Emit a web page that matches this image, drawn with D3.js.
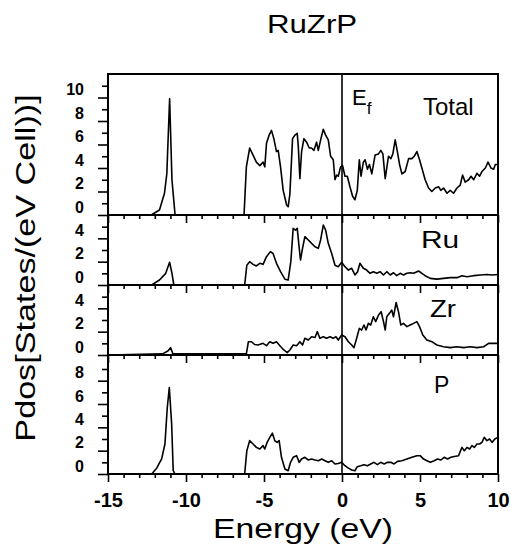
<!DOCTYPE html>
<html>
<head>
<meta charset="utf-8">
<title>RuZrP Pdos</title>
<script src="https://cdn.jsdelivr.net/npm/d3@7"></script>
<style>
    body { margin: 0; background: #fff; }
    svg text, svg tspan { font-family: "Liberation Sans", Arial, Helvetica, sans-serif; fill: #000; }
    .tick text { font-weight: bold; }
</style>
</head>
<body>
<svg id="chart" width="526" height="550"></svg>
<script>
// energies (eV) and densities of states, one pair per panel
var totalE = [-15, -12.23, -11.7, -11.38, -11.23, -11.05, -10.9, -10.7, -6.28, -6.13, -5.92, -5.7, -5.49, -5.27, -5.06, -4.95, -4.84, -4.67, -4.52, -4.37, -4.2, -4.09, -3.94, -3.77, -3.55, -3.45, -3.34, -3.17, -3.02, -2.87, -2.8, -2.7, -2.59, -2.44, -2.27, -2.1, -1.95, -1.8, -1.63, -1.52, -1.35, -1.2, -1.05, -0.88, -0.73, -0.56, -0.45, -0.34, -0.24, -0.09, 0.04, 0.19, 0.34, 0.51, 0.68, 0.83, 0.98, 1.11, 1.22, 1.37, 1.48, 1.63, 1.76, 1.91, 2.12, 2.34, 2.49, 2.62, 2.77, 2.98, 3.13, 3.26, 3.41, 3.51, 3.69, 3.84, 4.05, 4.27, 4.48, 4.63, 4.8, 4.97, 5.12, 5.33, 5.55, 5.76, 5.98, 6.19, 6.34, 6.51, 6.73, 6.94, 7.15, 7.37, 7.58, 7.73, 7.9, 8.12, 8.27, 8.44, 8.65, 8.82, 8.97, 9.19, 9.36, 9.55, 9.72, 9.83, 10];
var totalDos = [0, 0, 0.43, 1.85, 3.5, 9.9, 3.0, 0, 0, 4.1, 5.7, 5.1, 4.5, 4.2, 4.5, 4.1, 6.1, 6.8, 7.2, 6.5, 5.4, 5.5, 4.1, 2.1, 0.85, 0.7, 1.8, 6.5, 6.8, 6.95, 5.8, 3.1, 5.4, 6.5, 6.2, 5.7, 5.7, 5.5, 6.2, 5.5, 6.5, 7.3, 6.8, 6.4, 5.0, 4.7, 3.0, 3.4, 3.3, 4.1, 4.2, 3.3, 3.3, 2.4, 1.6, 1.3, 2.1, 4.7, 3.3, 4.5, 4.7, 3.9, 4.3, 3.5, 5.1, 5.2, 5.5, 5.2, 3.1, 5.0, 4.8, 5.2, 6.4, 5.7, 4.3, 3.5, 3.7, 4.8, 4.8, 5.0, 5.4, 4.7, 4.0, 3.0, 2.3, 2.0, 2.3, 2.4, 2.1, 2.3, 1.85, 2.1, 1.85, 2.3, 2.55, 3.4, 2.8, 3.0, 3.3, 3.0, 3.55, 3.3, 3.7, 4.0, 4.5, 4.0, 3.9, 4.3, 4.3];

var ruE = [-15, -12.2, -11.7, -11.3, -11.05, -10.9, -10.78, -6.24, -6.1, -5.92, -5.7, -5.49, -5.27, -5.06, -4.84, -4.59, -4.42, -4.2, -3.94, -3.66, -3.45, -3.28, -3.13, -2.98, -2.87, -2.74, -2.66, -2.53, -2.38, -2.16, -1.95, -1.73, -1.52, -1.37, -1.2, -1.05, -0.88, -0.66, -0.45, -0.24, -0.02, 0.19, 0.41, 0.62, 0.83, 1.0, 1.15, 1.37, 1.58, 1.8, 2.01, 2.23, 2.44, 2.66, 2.87, 3.09, 3.3, 3.51, 3.73, 3.94, 4.16, 4.37, 4.59, 4.91, 5.12, 5.33, 5.66, 6.08, 6.51, 6.94, 7.37, 7.69, 8.01, 8.44, 8.87, 9.29, 9.62, 10];
var ruDos = [0, 0, 0.43, 1.0, 1.95, 1.0, 0, 0, 1.7, 2.0, 1.77, 1.63, 1.86, 1.77, 2.43, 2.86, 2.7, 1.86, 1.14, 0.5, 0.43, 2.0, 4.86, 4.7, 4.86, 3.14, 2.14, 3.14, 4.14, 3.86, 3.57, 3.28, 3.14, 3.86, 5.14, 4.7, 3.57, 2.7, 1.7, 1.57, 1.95, 1.57, 1.28, 1.43, 0.86, 1.14, 1.86, 1.43, 1.28, 1.0, 1.14, 1.0, 1.14, 0.86, 1.14, 0.86, 1.05, 0.8, 1.0, 0.86, 1.0, 1.05, 1.0, 1.2, 1.0, 0.8, 0.57, 0.5, 0.57, 0.63, 0.63, 0.8, 0.71, 0.8, 0.86, 0.9, 0.86, 0.9];

var zrE = [-15, -11.5, -11.16, -10.99, -10.84, -6.13, -6.0, -5.81, -5.6, -5.38, -5.06, -4.84, -4.63, -4.42, -4.2, -3.98, -3.73, -3.51, -3.34, -3.13, -2.91, -2.7, -2.53, -2.38, -2.16, -1.95, -1.73, -1.58, -1.42, -1.2, -0.99, -0.77, -0.56, -0.39, -0.24, -0.02, 0.19, 0.41, 0.62, 0.77, 0.94, 1.11, 1.26, 1.41, 1.54, 1.69, 1.84, 2.01, 2.16, 2.34, 2.51, 2.66, 2.77, 2.87, 3.04, 3.19, 3.3, 3.47, 3.62, 3.77, 3.94, 4.16, 4.37, 4.59, 4.8, 4.97, 5.18, 5.44, 5.76, 6.08, 6.51, 6.94, 7.37, 7.8, 8.22, 8.65, 9.08, 9.4, 9.72, 10];
var zrDos = [0, 0.1, 0.34, 0.63, 0.1, 0.1, 1.14, 1.14, 0.9, 0.86, 1.0, 0.8, 1.14, 1.0, 1.14, 0.8, 0.43, 0.2, 0.43, 0.86, 0.8, 1.14, 0.86, 1.43, 1.28, 1.57, 1.5, 2.0, 1.43, 1.57, 1.43, 1.57, 1.43, 1.57, 1.28, 1.71, 1.57, 1.14, 0.86, 0.63, 1.43, 2.28, 2.14, 2.57, 2.14, 2.71, 2.57, 3.28, 2.86, 3.43, 3.71, 2.86, 2.14, 3.28, 3.57, 3.85, 3.28, 4.5, 3.71, 2.57, 2.71, 2.43, 2.57, 2.71, 2.86, 2.43, 1.71, 1.28, 1.14, 0.86, 0.71, 0.63, 0.71, 0.63, 0.71, 0.63, 0.71, 1.0, 1.0, 1.0];

var pE = [-15, -12.2, -11.88, -11.56, -11.35, -11.2, -11.07, -10.92, -10.82, -10.71, -6.24, -6.1, -5.92, -5.7, -5.49, -5.27, -5.06, -4.95, -4.8, -4.63, -4.46, -4.31, -4.16, -4.03, -3.88, -3.66, -3.45, -3.3, -3.13, -2.91, -2.74, -2.59, -2.38, -2.16, -1.95, -1.73, -1.52, -1.3, -1.09, -0.88, -0.66, -0.45, -0.24, -0.02, 0.19, 0.41, 0.62, 0.83, 0.98, 1.2, 1.41, 1.63, 1.84, 2.05, 2.27, 2.48, 2.7, 2.91, 3.13, 3.34, 3.56, 3.84, 4.16, 4.48, 4.8, 5.01, 5.23, 5.44, 5.66, 5.91, 6.12, 6.34, 6.55, 6.77, 6.98, 7.2, 7.47, 7.69, 7.84, 8.01, 8.18, 8.33, 8.48, 8.65, 8.82, 8.97, 9.12, 9.29, 9.46, 9.62, 9.8, 10];
var pDos = [0, 0, 0.5, 1.3, 2.57, 5.7, 7.4, 4.3, 0.3, 0, 0, 2.0, 2.86, 2.57, 2.28, 2.14, 2.43, 2.14, 2.71, 3.14, 3.5, 2.86, 2.71, 2.86, 1.43, 0.43, 0.28, 1.0, 1.43, 1.57, 1.0, 1.28, 1.43, 1.2, 1.28, 1.2, 1.14, 1.28, 1.14, 1.0, 1.14, 0.86, 0.9, 1.0, 0.71, 0.5, 0.34, 0.28, 0.63, 0.71, 0.8, 0.71, 0.86, 1.0, 0.8, 1.0, 0.86, 1.0, 1.0, 0.86, 1.08, 1.14, 1.28, 1.43, 1.57, 1.57, 1.28, 1.14, 1.0, 1.14, 1.28, 1.2, 1.43, 1.28, 1.43, 1.5, 1.57, 2.28, 2.0, 2.28, 2.14, 2.43, 2.28, 2.57, 2.57, 2.71, 3.14, 2.86, 3.0, 2.71, 3.0, 3.14];

var panelNames = ["Total", "Ru", "Zr", "P"];
var panelMax = [12, 6, 6, 10.2];
var xTicks = [-15, -10, -5, 0, 5, 10];

var left = 108, right = 498;
var panelTop = [74, 215, 285, 355];
var panelBottom = [215, 285, 355, 474];
var energies = [totalE, ruE, zrE, pE];
var dos = [totalDos, ruDos, zrDos, pDos];

var svg = d3.select("#chart");
var x = d3.scaleLinear().domain([-15, 10]).range([left, right]);

// stretched text helper (the scanned lettering is wider than Arial)
function label(txt, px, py, size, sx, anchor, rot) {
    var g = svg.append("g").attr("transform", "translate(" + px + "," + py + ")" + (rot ? " rotate(" + rot + ")" : ""));
    return g.append("text")
        .attr("transform", "scale(" + sx + ",1)")
        .attr("text-anchor", anchor)
        .attr("font-size", size + "px")
        .attr("fill", "#000")
        .text(txt);
}

for (var i = 0; i < 4; i++) {
    var y = d3.scaleLinear().domain([0, panelMax[i]]).range([panelBottom[i], panelTop[i]]);
    var g = svg.append("g");

    // y axis: tick every unit, label the even ones
    var yAxis = d3.axisLeft(y)
        .tickValues(d3.range(0, Math.floor(panelMax[i] - 0.3) + 1))
        .tickSize(6).tickPadding(18)
        .tickFormat(function(d) { return d % 2 == 0 ? d : ""; });
    var ya = g.append("g").attr("transform", "translate(" + left + ",0)").call(yAxis);
    ya.select(".domain").remove();
    ya.selectAll(".tick line").attr("stroke-width", 1.6)
        .attr("x2", function(d) { return d % 2 == 0 ? -10 : -6; });
    ya.selectAll(".tick text").attr("font-size", "16px").attr("dy", "-0.18em")
        .attr("font-family", "Liberation Sans, Arial, sans-serif");

    // x ticks along the bottom of every panel
    var xAxis = d3.axisBottom(x)
        .tickValues(d3.range(-15, 11))
        .tickSize(4).tickPadding(0)
        .tickFormat(function(d) { return (i == 3 && xTicks.indexOf(d) >= 0) ? d : ""; });
    var xa = g.append("g").attr("transform", "translate(0," + panelBottom[i] + ")").call(xAxis);
    xa.select(".domain").remove();
    xa.selectAll(".tick line").attr("stroke-width", 1.6)
        .attr("y2", function(d) { return d % 5 == 0 ? 8 : 4; });
    xa.selectAll(".tick text").attr("font-size", "20px").attr("y", 19)
        .attr("font-family", "Liberation Sans, Arial, sans-serif");

    var line = d3.line()
        .x(function(d) { return x(d[0]); })
        .y(function(d) { return y(d[1]); });
    g.append("path")
        .datum(d3.zip(energies[i], dos[i]))
        .attr("fill", "none")
        .attr("stroke", "#000")
        .attr("stroke-width", 1.6)
        .attr("stroke-linejoin", "round")
        .attr("d", line);

    // separator / bottom edge
    g.append("line")
        .attr("x1", left).attr("x2", right)
        .attr("y1", panelBottom[i]).attr("y2", panelBottom[i])
        .attr("stroke", "#000").attr("stroke-width", 2);
}

// frame and Fermi level
svg.append("rect")
    .attr("x", left).attr("y", panelTop[0])
    .attr("width", right - left).attr("height", panelBottom[3] - panelTop[0])
    .attr("fill", "none").attr("stroke", "#000").attr("stroke-width", 2);
svg.append("line")
    .attr("x1", x(0)).attr("x2", x(0))
    .attr("y1", panelTop[0]).attr("y2", panelBottom[3])
    .attr("stroke", "#000").attr("stroke-width", 1.6);

// panel names
label(panelNames[0], 423, 115, 24, 1, "start");
label(panelNames[1], 421, 248, 23, 1.3, "start");
label(panelNames[2], 430, 317, 23, 1.2, "start");
label(panelNames[3], 434, 393, 23, 1, "start");

// E_f marker
var ef = svg.append("text").attr("x", 352).attr("y", 105).attr("font-size", "22px").attr("fill", "#000").text("E");
ef.append("tspan").attr("font-size", "17px").attr("dy", 9).attr("fill", "#000").text("f");

// titles
label("RuZrP", 312, 33, 25, 1.25, "middle");
label("Energy (eV)", 303, 538, 27, 1.25, "middle");
label("Pdos[States/(eV Cell))]", 35, 268, 28, 1.22, "middle", -90);
</script>
</body>
</html>
